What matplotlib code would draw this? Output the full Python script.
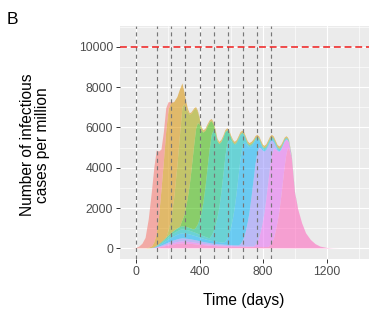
import matplotlib
matplotlib.use("Agg")
import matplotlib.pyplot as plt
from matplotlib.ticker import FixedLocator

plt.rcParams['font.family'] = ['Liberation Sans', 'DejaVu Sans']

# Sampling days
days = [-40, -20, 0, 20, 40, 60, 80, 100, 115, 130, 145, 160, 175, 190, 205, 220, 240, 260, 275, 292,
        303, 315, 327, 338, 348, 358, 368, 378, 389, 400,
        412, 424, 437, 450, 463, 476, 488, 500, 512, 524,
        537, 550, 562, 574, 586, 598, 610, 621, 633, 645,
        657, 669, 681, 692, 703, 714, 727, 740, 752, 763,
        775, 786, 797, 808, 820, 832, 844, 855, 867, 878,
        890, 902, 913, 924, 935, 946, 954, 962,
        980, 1000, 1020, 1045, 1070, 1100, 1130, 1160, 1200, 1240, 1280]

# Infectious cases per million, one series per strain (strain 1 drawn on top)
strain1 = [0, 5, 20, 90, 230, 520, 1420, 2730, 3700, 4150, 3200, 2000, 1450, 1150, 350, 50, 0, 0, 0, 0] \
    + [0] * 58 + [0] * 11
strain2 = [0, 0, 0, 0, 0, 0, 30, 78, 245, 568, 1380, 2592, 3882, 5272, 5998, 5802, 4746, 3421, 2363, 1183] \
    + [644, 310, 145] + [70] * 49 + [65, 60, 55, 50, 45, 40] \
    + [25, 10] + [0] * 9
strain3 = [0] * 14 + [264, 650, 1624, 3089, 4431, 5595] \
    + [5540, 4937, 4188, 3489, 2855, 2236, 1621, 1002, 552, 270, 117] + [40] * 41 \
    + [38, 35, 33, 30, 28, 25] \
    + [15, 5] + [0] * 9
strain4 = [0] * 19 + [302] \
    + [532, 986, 1526, 2129, 2834, 3598, 4318, 4892, 5019, 4736,
       4057, 3470, 2766, 2061, 1327, 691, 292, 106, 19] + [0] * 39 \
    + [0] * 11
strain5 = [0] * 7 + [3, 8, 18, 30, 42, 57, 72, 87, 102, 120, 135, 144, 150] \
    + [148, 146, 142, 138, 134, 129, 161, 276, 467, 741,
       1129, 1662, 2484, 3447, 4398, 4983, 5020, 4553, 3806, 3158,
       2476, 1802, 1194, 670, 314, 153, 63, 46, 46, 45,
       44, 44, 43, 42, 42, 42, 42, 42, 42, 42,
       42, 42, 42, 42, 42, 42, 42, 42, 41, 39,
       36, 33, 30, 27, 23, 20, 17, 15] \
    + [9, 4] + [0] * 9
strain6 = [0] * 7 + [4, 10, 24, 40, 56, 76, 96, 116, 136, 160, 180, 192, 200] \
    + [197, 194, 189, 184, 178, 172, 166, 160, 152, 144,
       136, 128, 120, 112, 106, 261, 471, 794, 1190, 1705,
       2497, 3403, 4228, 4715, 4767, 4306, 3713, 3114, 2459, 1818,
       1193, 669, 318, 158, 80, 56, 56, 56, 56, 56,
       56, 56, 56, 56, 56, 56, 56, 56, 54, 52,
       48, 44, 40, 36, 31, 26, 23, 20] \
    + [12, 6] + [0] * 9
strain7 = [0] * 7 + [5, 12, 30, 50, 70, 95, 120, 145, 170, 200, 225, 240, 250] \
    + [246, 242, 236, 230, 223, 215, 208, 200, 190, 180,
       170, 160, 150, 140, 133, 125, 119, 112, 108, 102,
       99, 95, 144, 290, 499, 866, 1334, 1855, 2592, 3427,
       4212, 4671, 4726, 4328, 3783, 3220, 2501, 1784, 1167, 695,
       337, 183, 103, 70, 70, 70, 70, 70, 68, 65,
       60, 55, 50, 45, 39, 32, 29, 25] \
    + [15, 8] + [0] * 9
strain8 = [0] * 7 + [3, 8, 18, 30, 42, 57, 72, 87, 102, 120, 135, 144, 150] \
    + [148, 146, 142, 138, 134, 129, 125, 120, 114, 108,
       102, 96, 90, 84, 80, 75, 71, 68, 65, 62,
       59, 57, 55, 52, 51, 50, 48, 46, 46, 45,
       97, 244, 453, 793, 1197, 1694, 2473, 3310, 4024, 4420,
       4497, 4106, 3589, 3044, 2413, 1798, 1192, 704, 323, 163,
       69, 33, 30, 27, 23, 20, 17, 15] \
    + [9, 4] + [0] * 9
strain9 = [0] * 7 + [2, 5, 12, 20, 28, 38, 48, 58, 68, 80, 90, 96, 100] \
    + [99, 97, 95, 92, 89, 86, 83, 80, 76, 72,
       68, 64, 60, 56, 53, 50, 48, 45, 43, 41,
       40, 38, 37, 35, 34, 33, 32, 31, 31, 30,
       30, 29, 29, 28, 28, 28, 28, 28, 100, 236,
       439, 783, 1190, 1688, 2399, 3204, 3939, 4370, 4470, 4098,
       3538, 2935, 2363, 1800, 1244, 723, 437, 256] \
    + [51, 3] + [0] * 9
strain10 = [0] * 7 + [5, 12, 30, 50, 70, 95, 120, 145, 170, 200, 225, 240, 250] \
    + [246, 242, 236, 230, 223, 215, 208, 200, 190, 180,
       170, 160, 150, 140, 133, 125, 119, 112, 108, 102,
       99, 95, 91, 88, 85, 82, 80, 78, 76, 75,
       74, 72, 71, 70, 70, 70, 70, 70, 70, 70,
       70, 70, 70, 70, 70, 70, 142, 278, 479, 823,
       1274, 1840, 2509, 3270, 4037, 4659, 4914, 5004] \
    + [4464, 2760, 1950, 1250, 750, 420, 210, 90, 25, 5, 0]

strains = [strain1, strain2, strain3, strain4, strain5,
           strain6, strain7, strain8, strain9, strain10]
colors = ['#F8766D', '#D89000', '#A3A500', '#39B600', '#00BF7D',
          '#00BFC4', '#00B0F6', '#9590FF', '#E76BF3', '#FF62BC']

# Introduction days (dashed markers) and capacity threshold
intro_days = [0, 130, 220, 310, 400, 490, 580, 670, 760, 850]
threshold = 10000

fig = plt.figure(figsize=(3.84, 3.27), dpi=100)
ax = fig.add_axes([120 / 384, 1 - 259 / 327, 249 / 384, 233 / 327])
ax.set_facecolor('#EBEBEB')
for s in ax.spines.values():
    s.set_visible(False)

ax.set_xlim(-101, 1466)
ax.set_ylim(-525, 11025)

ax.xaxis.set_major_locator(FixedLocator([0, 400, 800, 1200]))
ax.xaxis.set_minor_locator(FixedLocator([200, 600, 1000, 1400]))
ax.yaxis.set_major_locator(FixedLocator([0, 2000, 4000, 6000, 8000, 10000]))
ax.yaxis.set_minor_locator(FixedLocator([1000, 3000, 5000, 7000, 9000, 11000]))
ax.grid(which='major', color='white', linewidth=0.85)
ax.grid(which='minor', color='white', linewidth=0.45)
ax.set_axisbelow(True)
ax.tick_params(which='major', length=2.8, width=0.7, color='#333333',
               labelsize=8.8, labelcolor='#4D4D4D', pad=2.2)
ax.tick_params(which='minor', length=0)

# Stack with the last strain at the bottom
ax.stackplot(days, *strains[::-1], colors=colors[::-1], alpha=0.55, linewidth=0)

for d in intro_days:
    ax.axvline(d, color='#777777', linewidth=0.85, dashes=(3.4, 2.9), zorder=3)
ax.axhline(threshold, color='#EE1C1C', linewidth=1.1, dashes=(4.5, 2.5), zorder=3)

fig.text(7 / 384, 1 - 19 / 327, 'B', fontsize=12.5, ha='left', va='center')
fig.text(35 / 384, 1 - 145 / 327, 'Number of infectious\ncases per million',
         rotation=90, fontsize=11.2, ha='center', va='center', multialignment='center',
         linespacing=1.0)
fig.text(244 / 384, 1 - 300 / 327, 'Time (days)', fontsize=11.2, ha='center', va='center')

fig.savefig('out.png', dpi=100)
